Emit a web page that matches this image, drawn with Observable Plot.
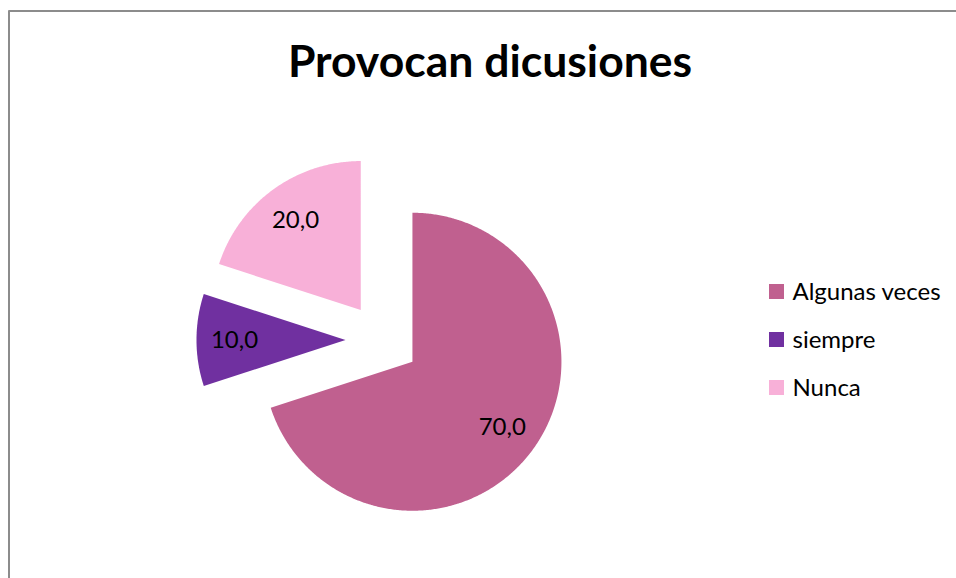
<!DOCTYPE html>
<html>
<head>
<meta charset="utf-8">
<script src="https://cdn.jsdelivr.net/npm/d3@7"></script>
<script src="https://cdn.jsdelivr.net/npm/@observablehq/plot@0.6"></script>
<style>
  html, body { margin: 0; padding: 0; background: #fff; }
</style>
</head>
<body>
<div id="chart"></div>
<script>
// ---- data ----
const title = "Provocan dicusiones";
const categories = ["Algunas veces", "siempre", "Nunca"];
const values = [70, 10, 20];
const valueLabels = ["70,0", "10,0", "20,0"];
const colors = ["#C0608F", "#7030A0", "#F8B0D8"];

// ---- layout ----
const W = 956, H = 578;
const cx = 382, cy = 339.5, R = 149, explode = 37, labelR = 111;
const legendX = 769, legendY0 = 291.5, legendStep = 48, sq = 15;
const font = "Lato, 'Open Sans', sans-serif";

const arcs = d3.pie().sort(null).value(d => d)(values);
const slicePts = [];
const labelPts = [];
arcs.forEach((a, i) => {
  const cat = categories[i];
  const mid = (a.startAngle + a.endAngle) / 2;
  const ox = cx + explode * Math.sin(mid);
  const oy = cy - explode * Math.cos(mid);
  slicePts.push({cat, x: ox, y: oy});
  const n = Math.max(4, Math.ceil((a.endAngle - a.startAngle) / (Math.PI / 360)));
  for (let k = 0; k <= n; k++) {
    const t = a.startAngle + (a.endAngle - a.startAngle) * k / n;
    slicePts.push({cat, x: ox + R * Math.sin(t), y: oy - R * Math.cos(t)});
  }
  slicePts.push({cat, x: ox, y: oy});
  labelPts.push({label: valueLabels[i], x: ox + labelR * Math.sin(mid), y: oy - labelR * Math.cos(mid)});
});

const legendRows = categories.map((cat, i) => ({
  cat,
  y: legendY0 + i * legendStep
}));

const chart = Plot.plot({
  width: W,
  height: H,
  margin: 0,
  x: {domain: [0, W], range: [0, W], axis: null},
  y: {domain: [0, H], range: [0, H], axis: null},
  color: {domain: categories, range: colors},
  style: {fontFamily: font, background: "#fff", color: "#000"},
  marks: [
    // chart-area border (top & left visible)
    Plot.ruleY([10.5], {x1: 8.5, x2: W, stroke: "#8c8c8c", strokeWidth: 2}),
    Plot.ruleX([8.5], {y1: 10.5, y2: H, stroke: "#8c8c8c", strokeWidth: 2}),
    // pie slices
    Plot.line(slicePts, {x: "x", y: "y", z: "cat", fill: "cat", stroke: "none", curve: "linear"}),
    // data labels
    Plot.text(labelPts, {x: "x", y: "y", text: "label", fontSize: 24, fill: "#000", fontFamily: font}),
    // title
    Plot.text([title], {x: 489.5, y: 62, text: d => d, fontSize: 44.5, fontWeight: "bold", fill: "#000", fontFamily: font}),
    // legend
    Plot.rect(legendRows, {x1: legendX, x2: legendX + sq, y1: d => d.y - sq / 2, y2: d => d.y + sq / 2, fill: "cat"}),
    Plot.text(legendRows, {x: legendX + 23, y: "y", text: "cat", textAnchor: "start", fontSize: 24, fill: "#000", fontFamily: font})
  ]
});
document.getElementById("chart").appendChild(chart);
</script>
</body>
</html>
